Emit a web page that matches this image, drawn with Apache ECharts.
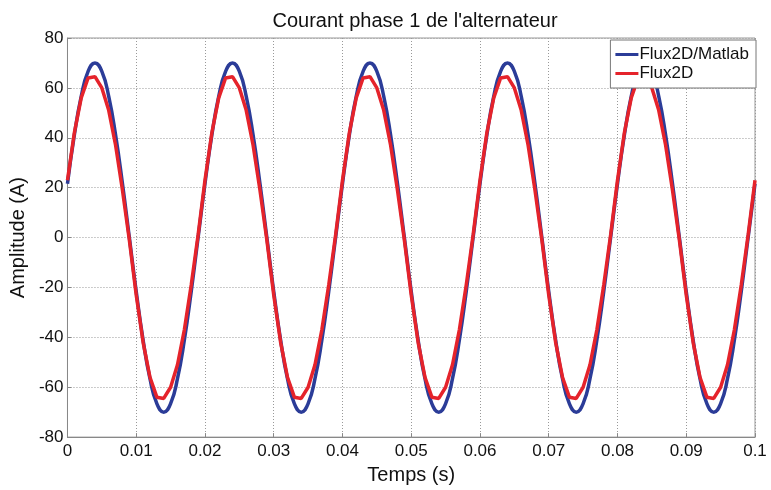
<!DOCTYPE html>
<html>
	<head>
		<meta charset="utf-8">
		<title>Courant phase 1 de l'alternateur</title>
		<style type="text/css">
			html, body {
				margin: 0;
				padding: 0;
				background: #fff;
			}

			#chart {
				width: 771px;
				height: 490px;
			}
		</style>
	</head>
	<body>
		<div id="chart"></div>

		<script src="https://cdn.jsdelivr.net/npm/echarts@6/dist/echarts.min.js"></script>
		<script>
			// temps (s), un point toutes les 1 ms
			var times = [
				0, 0.001, 0.002, 0.003, 0.004, 0.005, 0.006, 0.007, 0.008, 0.009,
				0.010, 0.011, 0.012, 0.013, 0.014, 0.015, 0.016, 0.017, 0.018, 0.019,
				0.020, 0.021, 0.022, 0.023, 0.024, 0.025, 0.026, 0.027, 0.028, 0.029,
				0.030, 0.031, 0.032, 0.033, 0.034, 0.035, 0.036, 0.037, 0.038, 0.039,
				0.040, 0.041, 0.042, 0.043, 0.044, 0.045, 0.046, 0.047, 0.048, 0.049,
				0.050, 0.051, 0.052, 0.053, 0.054, 0.055, 0.056, 0.057, 0.058, 0.059,
				0.060, 0.061, 0.062, 0.063, 0.064, 0.065, 0.066, 0.067, 0.068, 0.069,
				0.070, 0.071, 0.072, 0.073, 0.074, 0.075, 0.076, 0.077, 0.078, 0.079,
				0.080, 0.081, 0.082, 0.083, 0.084, 0.085, 0.086, 0.087, 0.088, 0.089,
				0.090, 0.091, 0.092, 0.093, 0.094, 0.095, 0.096, 0.097, 0.098, 0.099,
				0.100
			];

			// Flux2D/Matlab (A)
			var matlabValues = [
				21.6, 41.1, 56.6, 66.6, 70, 66.6, 56.6, 41.1, 21.6, 0,
				-21.6, -41.1, -56.6, -66.6, -70, -66.6, -56.6, -41.1, -21.6, 0,
				21.6, 41.1, 56.6, 66.6, 70, 66.6, 56.6, 41.1, 21.6, 0,
				-21.6, -41.1, -56.6, -66.6, -70, -66.6, -56.6, -41.1, -21.6, 0,
				21.6, 41.1, 56.6, 66.6, 70, 66.6, 56.6, 41.1, 21.6, 0,
				-21.6, -41.1, -56.6, -66.6, -70, -66.6, -56.6, -41.1, -21.6, 0,
				21.6, 41.1, 56.6, 66.6, 70, 66.6, 56.6, 41.1, 21.6, 0,
				-21.6, -41.1, -56.6, -66.6, -70, -66.6, -56.6, -41.1, -21.6, 0,
				21.6, 41.1, 56.6, 66.6, 70, 66.6, 56.6, 41.1, 21.6, 0,
				-21.6, -41.1, -56.6, -66.6, -70, -66.6, -56.6, -41.1, -21.6, 0,
				21.6
			];

			// Flux2D (A)
			var flux2dValues = [
				23, 42, 56, 64, 64.5, 60, 51, 37, 19, -1,
				-23, -42, -56, -64, -64.5, -60, -51, -37, -19, 1,
				23, 42, 56, 64, 64.5, 60, 51, 37, 19, -1,
				-23, -42, -56, -64, -64.5, -60, -51, -37, -19, 1,
				23, 42, 56, 64, 64.5, 60, 51, 37, 19, -1,
				-23, -42, -56, -64, -64.5, -60, -51, -37, -19, 1,
				23, 42, 56, 64, 64.5, 60, 51, 37, 19, -1,
				-23, -42, -56, -64, -64.5, -60, -51, -37, -19, 1,
				23, 42, 56, 64, 64.5, 60, 51, 37, 19, -1,
				-23, -42, -56, -64, -64.5, -60, -51, -37, -19, 1,
				23
			];

			var seriesNames = ['Flux2D/Matlab', 'Flux2D'];
			var font = 'Liberation Sans, Arial, sans-serif';

			function pairs(values) {
				return times.map(function(t, i) {
					return [t, values[i]];
				});
			}

			var myChart = echarts.init(document.getElementById('chart'));

			var option = {
				animation: false,
				color: ['#2B3C98', '#E5232B'],
				title: {
					text: "Courant phase 1 de l'alternateur",
					left: 410,
					top: 6,
					textAlign: 'center',
					textStyle: {
						fontFamily: font,
						fontSize: 20,
						fontWeight: 'normal',
						color: '#111'
					}
				},
				legend: {
					data: seriesNames,
					orient: 'vertical',
					right: 15,
					top: 40,
					padding: [5, 7, 5, 5],
					itemGap: 0,
					itemWidth: 23,
					itemHeight: 3,
					icon: 'rect',
					backgroundColor: '#fff',
					borderColor: '#777',
					borderWidth: 1,
					borderRadius: 0,
					textStyle: {
						fontFamily: font,
						fontSize: 17,
						color: '#111',
						lineHeight: 19,
						padding: [0, 0, 0, -4]
					}
				},
				grid: {
					left: 64,
					right: 16,
					top: 38,
					bottom: 47,
					show: true,
					borderColor: '#999',
					borderWidth: 1
				},
				xAxis: {
					type: 'value',
					min: 0,
					max: 0.1,
					interval: 0.01,
					name: 'Temps (s)',
					nameLocation: 'middle',
					nameGap: 22,
					nameTextStyle: {
						fontFamily: font,
						fontSize: 20,
						color: '#111'
					},
					axisLine: {
						onZero: false,
						lineStyle: {
							color: '#888'
						}
					},
					axisTick: {
						inside: true,
						length: 4,
						lineStyle: {
							color: '#888'
						}
					},
					axisLabel: {
						fontFamily: font,
						fontSize: 17,
						color: '#111',
						margin: 6
					},
					splitLine: {
						lineStyle: {
							color: '#999',
							type: [1, 2]
						}
					}
				},
				yAxis: {
					type: 'value',
					min: -80,
					max: 80,
					interval: 20,
					name: 'Amplitude (A)',
					nameLocation: 'middle',
					nameGap: 32,
					nameTextStyle: {
						fontFamily: font,
						fontSize: 20,
						color: '#111'
					},
					axisLine: {
						show: true,
						onZero: false,
						lineStyle: {
							color: '#888'
						}
					},
					axisTick: {
						show: true,
						inside: true,
						length: 4,
						lineStyle: {
							color: '#888'
						}
					},
					axisLabel: {
						fontFamily: font,
						fontSize: 17,
						color: '#111',
						margin: 4
					},
					splitLine: {
						lineStyle: {
							color: '#999',
							type: [1, 2]
						}
					}
				},
				series: [{
					name: seriesNames[0],
					type: 'line',
					data: pairs(matlabValues),
					smooth: true,
					showSymbol: false,
					lineStyle: {
						width: 3.5
					}
				}, {
					name: seriesNames[1],
					type: 'line',
					data: pairs(flux2dValues),
					showSymbol: false,
					lineStyle: {
						width: 3.5
					}
				}]
			};

			myChart.setOption(option);
		</script>
	</body>
</html>
